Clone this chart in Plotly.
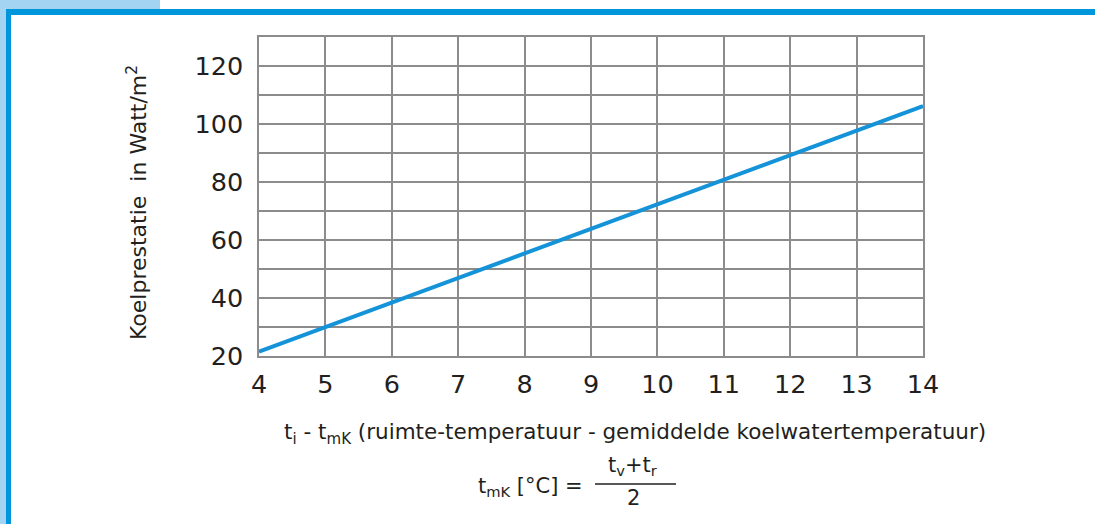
import plotly.graph_objects as go

# data
temp_diff = [4, 5, 6, 7, 8, 9, 10, 11, 12, 13, 14]
cooling_power = [21.5, 30, 38.5, 47, 55.5, 64, 72.5, 81, 89.5, 98, 106.2]
x_ticks = [4, 5, 6, 7, 8, 9, 10, 11, 12, 13, 14]
y_ticks = [20, 40, 60, 80, 100, 120]

W, H = 1095, 524
L, R, T, B = 259, 923, 37, 356
FONT = "DejaVu Sans"
TXT = "#231f20"
GRID = "#8c8c8c"
DARK = "#0096dc"
LIGHT = "#a3d5f3"

def px(x):
    return (x - L) / (R - L)

def py(y):
    return (B - y) / (B - T)

fig = go.Figure()
fig.add_trace(go.Scatter(x=temp_diff, y=cooling_power, mode="lines",
                         line=dict(color="#1493d8", width=4), showlegend=False,
                         hoverinfo="skip"))

shapes = [
    dict(type="rect", xref="paper", yref="paper", x0=px(0), x1=px(160), y0=py(0), y1=py(9),
         fillcolor=LIGHT, line=dict(width=0), layer="below"),
    dict(type="rect", xref="paper", yref="paper", x0=px(0), x1=px(6), y0=py(0), y1=py(H),
         fillcolor=LIGHT, line=dict(width=0), layer="below"),
    dict(type="rect", xref="paper", yref="paper", x0=px(6), x1=px(W), y0=py(9), y1=py(15),
         fillcolor=DARK, line=dict(width=0), layer="below"),
    dict(type="rect", xref="paper", yref="paper", x0=px(6), x1=px(11), y0=py(9), y1=py(H),
         fillcolor=DARK, line=dict(width=0), layer="below"),
    # fraction bar
    dict(type="line", xref="paper", yref="paper", x0=px(595), x1=px(676), y0=py(484), y1=py(484),
         line=dict(color=TXT, width=1.5)),
]

annotations = [
    dict(text="t<sub>i</sub> - t<sub>mK</sub> (ruimte-temperatuur - gemiddelde koelwatertemperatuur)",
         xref="paper", yref="paper", x=px(635), y=py(433), showarrow=False,
         font=dict(family=FONT, size=21.5, color=TXT), xanchor="center", yanchor="middle"),
    dict(text="t<sub>mK</sub> [°C] = ", xref="paper", yref="paper", x=px(476), y=py(487),
         showarrow=False, font=dict(family=FONT, size=21, color=TXT), xanchor="left", yanchor="middle"),
    dict(text="t<sub>v</sub>+t<sub>r</sub>", xref="paper", yref="paper", x=px(633), y=py(466),
         showarrow=False, font=dict(family=FONT, size=21, color=TXT), xanchor="center", yanchor="middle"),
    dict(text="2", xref="paper", yref="paper", x=px(633), y=py(498),
         showarrow=False, font=dict(family=FONT, size=21, color=TXT), xanchor="center", yanchor="middle"),
    dict(text="Koelprestatie  in Watt/m<sup>2</sup>", xref="paper", yref="paper", x=px(137), y=py(203),
         showarrow=False, textangle=-90, font=dict(family=FONT, size=22, color=TXT),
         xanchor="center", yanchor="middle"),
]

fig.update_layout(
    width=W, height=H,
    margin=dict(l=L, r=W - R, t=T, b=H - B, pad=0),
    paper_bgcolor="white", plot_bgcolor="white",
    shapes=shapes, annotations=annotations,
    xaxis=dict(range=[4, 14], tickvals=x_ticks, ticktext=[str(v) for v in x_ticks],
               showgrid=True, gridcolor=GRID, gridwidth=1.5, zeroline=False,
               showline=True, linecolor=GRID, linewidth=1.5, mirror=True,
               ticks="", ticklabelstandoff=5,
               tickfont=dict(family=FONT, size=25.5, color=TXT)),
    yaxis=dict(range=[20, 130], tickvals=y_ticks, ticktext=[str(v) for v in y_ticks],
               showgrid=True, gridcolor=GRID, gridwidth=1.5, zeroline=False,
               showline=True, linecolor=GRID, linewidth=1.5, mirror=True,
               minor=dict(dtick=10, tick0=0, showgrid=True, gridcolor=GRID, gridwidth=1.5),
               ticks="", ticklabelstandoff=9,
               tickfont=dict(family=FONT, size=25.5, color=TXT)),
)

fig.write_html("out.html", config={"displayModeBar": False},
               post_script="document.body.style.margin='0';document.body.style.padding='0';")
